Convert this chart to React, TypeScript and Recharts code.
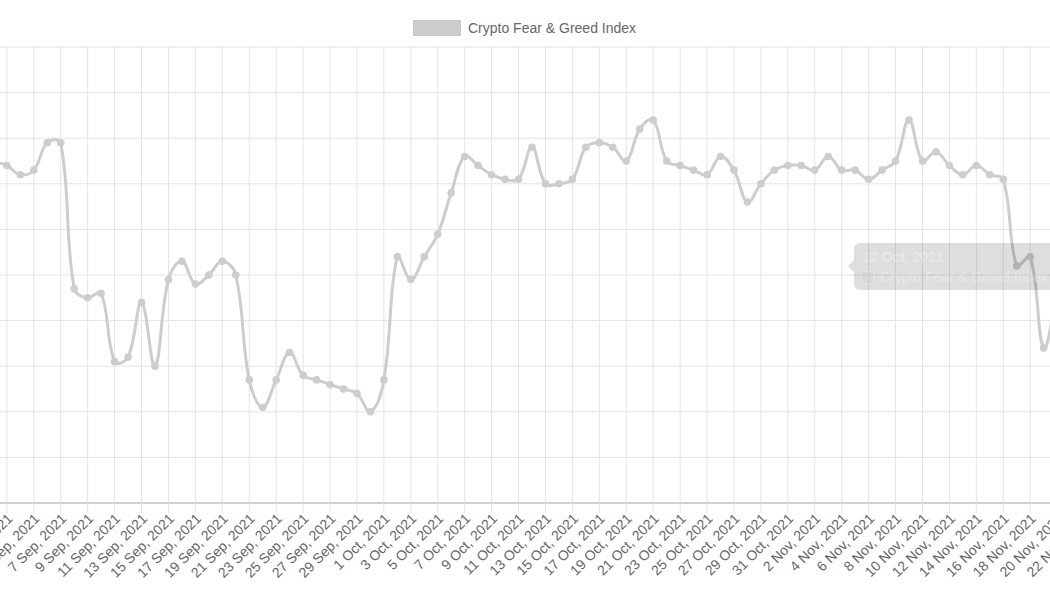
import React from 'react'
import { LineChart, Line, XAxis, YAxis, CartesianGrid } from 'recharts'

// daily Fear & Greed values, first entry = 2 Sep 2021
const START_DATE = Date.UTC(2021, 8, 2)
const fearGreed = [
  75, 74, 72, 73, 79, 79, 47, 45, 46, 31,
  32, 44, 30, 49, 53, 48, 50, 53, 50, 27,
  21, 27, 33, 28, 27, 26, 25, 24, 20, 27,
  54, 49, 54, 59, 68, 76, 74, 72, 71, 71,
  78, 70, 70, 71, 78, 79, 78, 75, 82, 84,
  75, 74, 73, 72, 76, 73, 66, 70, 73, 74,
  74, 73, 76, 73, 73, 71, 73, 75, 84, 75,
  77, 74, 72, 74, 72, 71, 52, 54, 34, 46,
]
const yTicks = [0, 10, 20, 30, 40, 50, 60, 70, 80, 90, 100]
const months = ['Jan', 'Feb', 'Mar', 'Apr', 'May', 'Jun', 'Jul', 'Aug', 'Sep', 'Oct', 'Nov', 'Dec']
const seriesName = 'Crypto Fear & Greed Index'
const tooltipDate = '12 Oct, 2021'

// x is counted in days from 3 Sep 2021
const X_MIN = -4
const X_MAX = 82
const xTicks: number[] = []
for (let d = X_MIN; d <= X_MAX; d += 2) xTicks.push(d)

const rows = fearGreed.map((v, k) => ({ day: k - 1, value: v }))

const DAY_MS = 86400000
const fmtDay = (d: number) => {
  const dt = new Date(START_DATE + (d + 1) * DAY_MS)
  return `${dt.getUTCDate()} ${months[dt.getUTCMonth()]}, ${dt.getUTCFullYear()}`
}

// bezier like chart.js (tension 0.4)
const TENSION = 0.4
const chartJsCurve = (ctx: any) => {
  let pts: number[][] = []
  return {
    areaStart() {},
    areaEnd() {},
    lineStart() { pts = [] },
    point(x: number, y: number) { pts.push([+x, +y]) },
    lineEnd() {
      const n = pts.length
      if (!n) return
      const cp = pts.map((p, i) => {
        const a = pts[i - 1] || p
        const b = pts[i + 1] || p
        const d01 = Math.hypot(p[0] - a[0], p[1] - a[1])
        const d12 = Math.hypot(b[0] - p[0], b[1] - p[1])
        let s01 = d01 / (d01 + d12)
        let s12 = d12 / (d01 + d12)
        if (isNaN(s01)) s01 = 0
        if (isNaN(s12)) s12 = 0
        const fa = TENSION * s01
        const fb = TENSION * s12
        return {
          px: p[0] - fa * (b[0] - a[0]), py: p[1] - fa * (b[1] - a[1]),
          nx: p[0] + fb * (b[0] - a[0]), ny: p[1] + fb * (b[1] - a[1]),
        }
      })
      ctx.moveTo(pts[0][0], pts[0][1])
      for (let i = 1; i < n; i++) {
        ctx.bezierCurveTo(cp[i - 1].nx, cp[i - 1].ny, cp[i].px, cp[i].py, pts[i][0], pts[i][1])
      }
    },
  }
}

const FONT = "'Liberation Sans', Arial, Helvetica, sans-serif"
const LINE = '#cdcdcd'
const GRID = '#e4e4e4'

const DateTick = (props: any) => {
  const { x, y, payload } = props
  const ax = x + 3
  const ay = y + 1
  return (
    <text
      x={ax}
      y={ay}
      transform={`rotate(-45 ${ax} ${ay})`}
      textAnchor="end"
      dominantBaseline="central"
      fontSize={14}
      fontFamily={FONT}
      fill="#666"
    >
      {fmtDay(payload.value)}
    </text>
  )
}

export default function App() {
  const chartW = 1158
  const pxDay = chartW / (X_MAX - X_MIN)
  const chartLeft = 7 + X_MIN * pxDay

  return (
    <div style={{
      position: 'absolute', left: 0, top: 0, width: 1050, height: 600,
      overflow: 'hidden', background: '#fff', fontFamily: FONT,
    }}>
      <div style={{ position: 'absolute', left: chartLeft, top: 0 }}>
        <LineChart width={chartW} height={600} data={rows}
          margin={{ top: 47, right: 0, bottom: 0, left: 0 }}>
          <CartesianGrid stroke={GRID} />
          <XAxis
            dataKey="day"
            type="number"
            domain={[X_MIN, X_MAX]}
            ticks={xTicks}
            interval={0}
            height={97}
            tick={<DateTick />}
            tickSize={10}
            tickLine={{ stroke: GRID }}
            axisLine={{ stroke: '#c6c6c6', strokeWidth: 1.5 }}
          />
          <YAxis hide domain={[0, 100]} ticks={yTicks} />
          <Line
            dataKey="value"
            name={seriesName}
            type={chartJsCurve as any}
            stroke={LINE}
            strokeWidth={3}
            dot={{ r: 3.2, fill: LINE, stroke: LINE, strokeWidth: 1.2 }}
            isAnimationActive={false}
          />
        </LineChart>
      </div>

      {/* legend */}
      <div style={{ position: 'absolute', left: 413, top: 20, display: 'flex', alignItems: 'center' }}>
        <span style={{ width: 48, height: 16, background: LINE, border: '1px solid #c8c8c8', boxSizing: 'border-box' }} />
        <span style={{ marginLeft: 7, fontSize: 14, color: '#666', lineHeight: '16px' }}>{seriesName}</span>
      </div>

      {/* fading tooltip left over on the right */}
      <div style={{
        position: 'absolute', left: 854, top: 243, width: 240, height: 47,
        background: 'rgba(0,0,0,0.13)', borderRadius: 6,
      }}>
        <div style={{
          position: 'absolute', left: -6, top: 17, width: 0, height: 0,
          borderTop: '6px solid transparent', borderBottom: '6px solid transparent',
          borderRight: '6px solid rgba(0,0,0,0.13)',
        }} />
        <div style={{ position: 'absolute', left: 8, top: 6, fontSize: 14, fontWeight: 'bold', color: 'rgba(255,255,255,0.3)' }}>
          {tooltipDate}
        </div>
        <div style={{ position: 'absolute', left: 7, top: 26, display: 'flex', alignItems: 'center' }}>
          <span style={{ width: 11, height: 11, background: 'rgba(205,205,205,0.35)', border: '1px solid rgba(255,255,255,0.3)' }} />
          <span style={{ marginLeft: 6, fontSize: 14, color: 'rgba(255,255,255,0.3)' }}>{seriesName}</span>
        </div>
      </div>
    </div>
  )
}
